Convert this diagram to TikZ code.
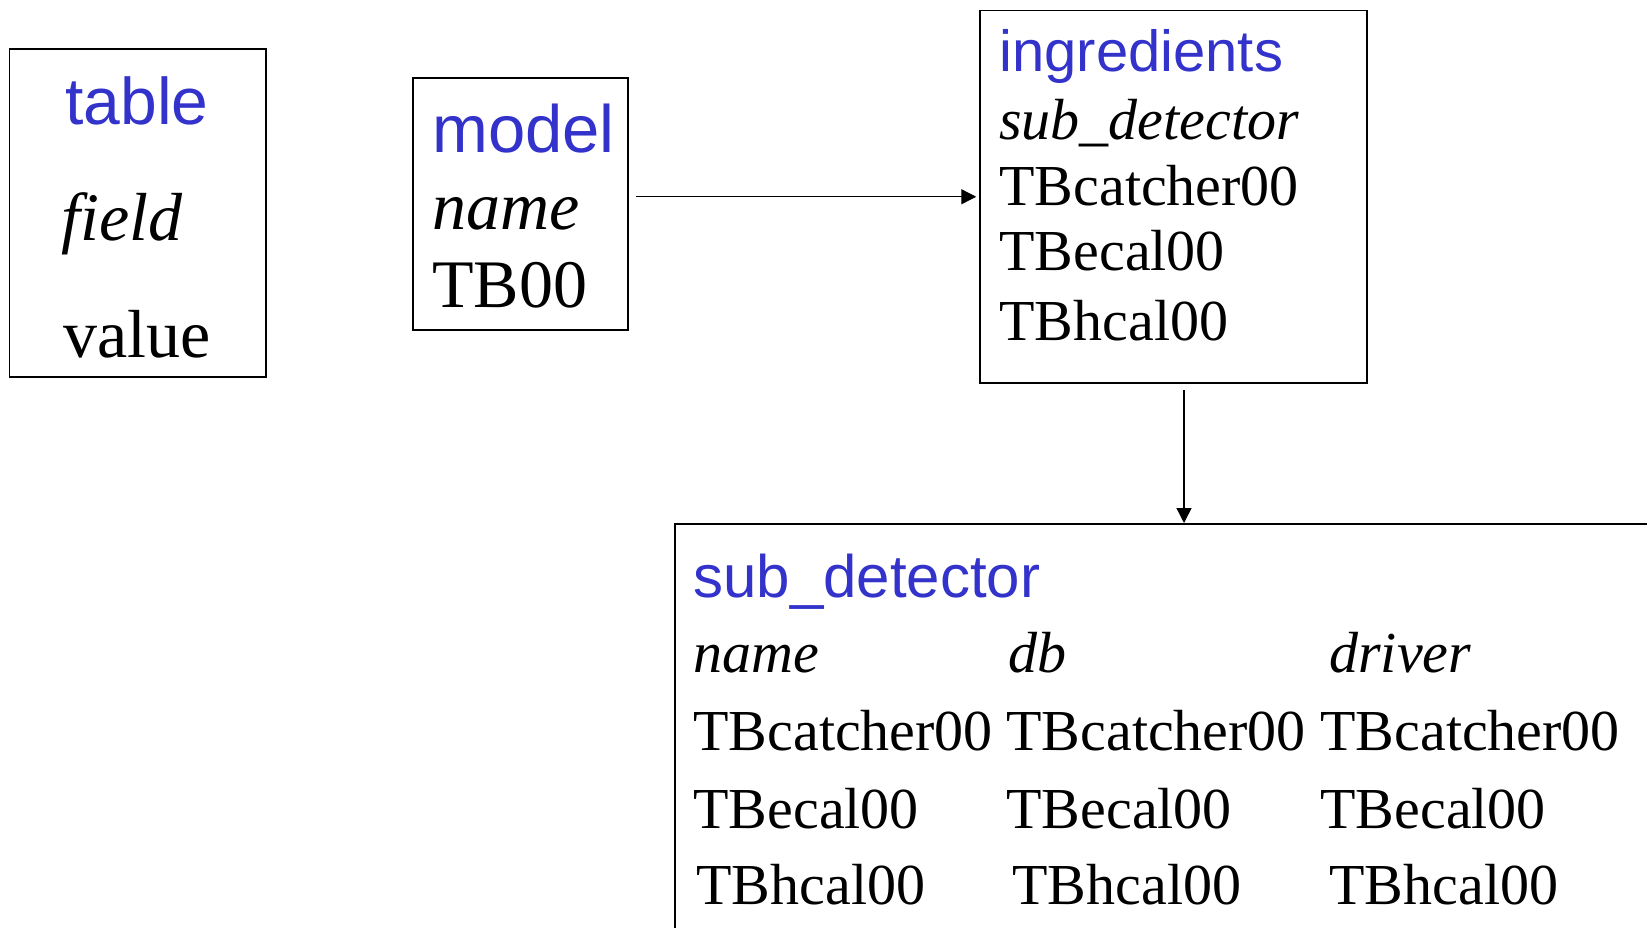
\documentclass[tikz,border=0pt]{standalone}
\usepackage{fontspec}
\setmainfont{Liberation Serif}
\setsansfont{Liberation Sans}
\usetikzlibrary{arrows.meta}
\definecolor{tblblue}{RGB}{51,51,204}
\tikzset{
  box/.style={draw,line width=0.75pt,inner sep=0pt},
  tname/.style={anchor=base west,inner sep=0pt,text=tblblue,font=\sffamily\fontsize{#1}{#1}\selectfont},
  tname/.default=29pt,
  fname/.style={anchor=base west,inner sep=0pt,font=\itshape\fontsize{#1}{#1}\selectfont},
  fname/.default=29pt,
  fval/.style={anchor=base west,inner sep=0pt,font=\fontsize{#1}{#1}\selectfont},
  fval/.default=29pt,
  link/.style={-{Triangle[length=7.5pt,width=7.5pt]},line width=0.65pt}
}
\begin{document}
\begin{tikzpicture}[x=0.5pt,y=-0.5pt]
\useasboundingbox (0,0) rectangle (1647,927);
% legend box
\node[box,minimum width=128.25pt,minimum height=164pt] (table) at (137.75,213) {};
\node[tname=33pt] (tabletitle) at (65,124) {table};
\node[fname=34pt] (tablefield) at (61,240) {field};
\node[fval=34pt] (tablevalue) at (63,357) {value};
% model
\node[box,minimum width=107.5pt,minimum height=126pt] (model) at (520.5,204) {};
\node[tname=33.5pt] (modeltitle) at (432,152) {model};
\node[fname=34pt] (modelname) at (432,229) {name};
\node[fval=34pt] (modelTB) at (432,307) {TB00};
% ingredients
\node[box,minimum width=193.5pt,minimum height=186.25pt] (ingr) at (1173.5,196.75) {};
\node[tname] (ingrtitle) at (999,71) {ingredients};
\node[fname] (ingrsub) at (999,139) {sub\_detector};
\node[fval] (ingrcatcher) at (999,205) {TBcatcher00};
\node[fval] (ingrecal) at (999,270) {TBecal00};
\node[fval] (ingrhcal) at (999,340) {TBhcal00};
% sub_detector (runs off the page)
\begin{scope}
\clip (0,0) rectangle (1647,927);
\node[box,anchor=north west,minimum width=500pt,minimum height=210pt] (sub) at (674,523) {};
\end{scope}
\node[tname=30pt] (subtitle) at (693,597) {sub\_detector};
\node[fname] (subname) at (693,672) {name};
\node[fname] (subdb) at (1008,672) {db};
\node[fname] (subdriver) at (1329,672) {driver};
\node[fval] (catchername) at (693,750) {TBcatcher00};
\node[fval] (catcherdb) at (1006,750) {TBcatcher00};
\node[fval] (catcherdriver) at (1320,750) {TBcatcher00};
\node[fval] (ecalname) at (693,828) {TBecal00};
\node[fval] (ecaldb) at (1006,828) {TBecal00};
\node[fval] (ecaldriver) at (1320,828) {TBecal00};
\node[fval] (hcalname) at (696,904) {TBhcal00};
\node[fval] (hcaldb) at (1012,904) {TBhcal00};
\node[fval] (hcaldriver) at (1329,904) {TBhcal00};
% links
\draw[link] ([xshift=3.5pt]model.east |- ingr.west) -- ([xshift=-1.5pt]ingr.west);
\draw[link] ([xshift=5.25pt,yshift=-3pt]ingr.south) -- ([xshift=5.25pt]ingr.south |- sub.north);
\end{tikzpicture}
\end{document}
